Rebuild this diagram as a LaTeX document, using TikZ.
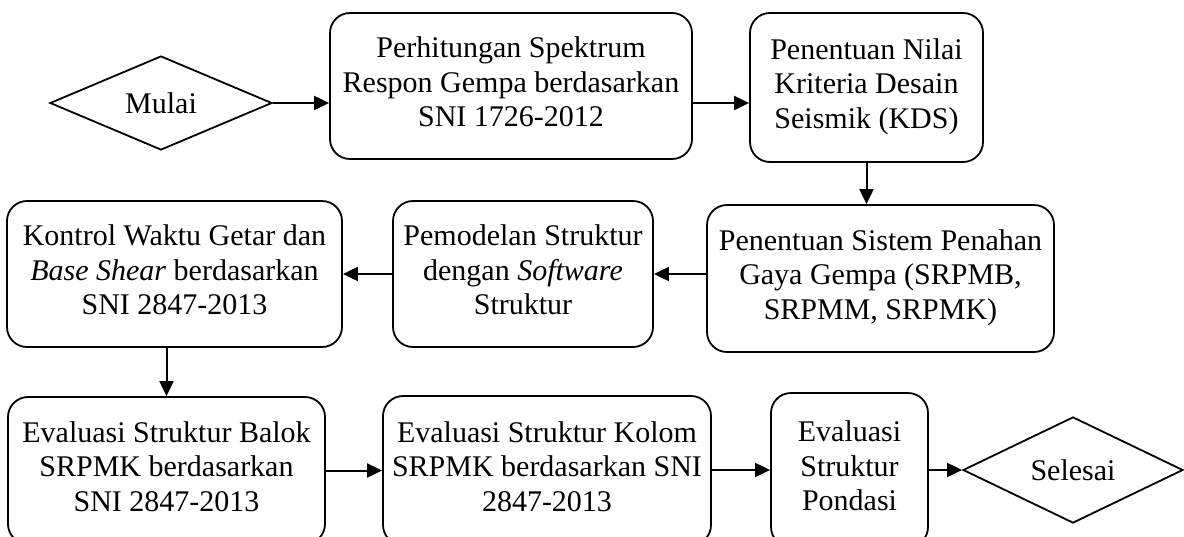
\documentclass[tikz,border=0pt]{standalone}
\usepackage{fontspec}
\setmainfont{Liberation Serif}
\usetikzlibrary{arrows.meta,shapes.geometric,calc}
\newcommand{\lowstrut}{\rule[-8pt]{0pt}{8pt}}
\begin{document}
\begin{tikzpicture}[x=1pt,y=-1pt,
  every node/.style={font=\fontsize{30}{34.5}\selectfont, align=center, inner sep=0pt},
  boxnode/.style={draw, line width=1.8pt, rounded corners=20pt},
  decision/.style={draw, line width=1.8pt, shape=diamond, inner sep=0pt},
  arr/.style={line width=2pt, -{Triangle[length=15pt,width=14pt]}}]
\useasboundingbox (0,0) rectangle (1184,536);
\node[decision, minimum width=222pt, minimum height=94pt] (mulai) at (161,103) {Mulai};
\node[boxnode, minimum width=362pt, minimum height=146pt] (b1) at (511,86)
  {Perhitungan Spektrum\\Respon Gempa berdasarkan\\SNI 1726-2012\lowstrut};
\node[boxnode, minimum width=233pt, minimum height=149pt] (b2) at (866.5,87.5)
  {Penentuan Nilai\\Kriteria Desain\\Seismik (KDS)\lowstrut};
\node[boxnode, minimum width=347pt, minimum height=147pt] (b3) at (880.5,278.5)
  {Penentuan Sistem Penahan\\Gaya Gempa (SRPMB,\\SRPMM, SRPMK)\lowstrut};
\node[boxnode, minimum width=260pt, minimum height=146pt] (pem) at (523,274)
  {Pemodelan Struktur\\dengan \textit{Software}\\Struktur\lowstrut};
\node[boxnode, minimum width=335pt, minimum height=146pt] (kon) at (174.5,274)
  {Kontrol Waktu Getar dan\\\textit{Base Shear} berdasarkan\\SNI 2847-2013\lowstrut};
\node[boxnode, minimum width=317pt, minimum height=147pt] (bal) at (166.5,470.5)
  {Evaluasi Struktur Balok\\SRPMK berdasarkan\\SNI 2847-2013\lowstrut};
\node[boxnode, minimum width=328pt, minimum height=149pt] (kol) at (547,470.5)
  {Evaluasi Struktur Kolom\\SRPMK berdasarkan SNI\\2847-2013\lowstrut};
\node[boxnode, minimum width=157pt, minimum height=154pt] (pon) at (849.5,470)
  {Evaluasi\\Struktur\\Pondasi\lowstrut};
\node[decision, minimum width=220pt, minimum height=95pt] (sel) at (1073,470) {Selesai};
\draw[arr] (mulai.east) -- (mulai.east -| b1.west);
\draw[arr] (b1.east |- mulai.east) -- (b2.west |- mulai.east);
\draw[arr] (b2.south) -- (b2.south |- b3.north);
\draw[arr] (pem.east -| b3.west) -- (pem.east);
\draw[arr] (pem.west) -- (kon.east);
\draw[arr] (kon.south -| bal.north) -- (bal.north);
\draw[arr] (bal.east) -- (bal.east -| kol.west);
\draw[arr] (kol.east |- pon.east) -- (pon.west);
\draw[arr] (pon.east) -- (sel.west);
\end{tikzpicture}
\end{document}
